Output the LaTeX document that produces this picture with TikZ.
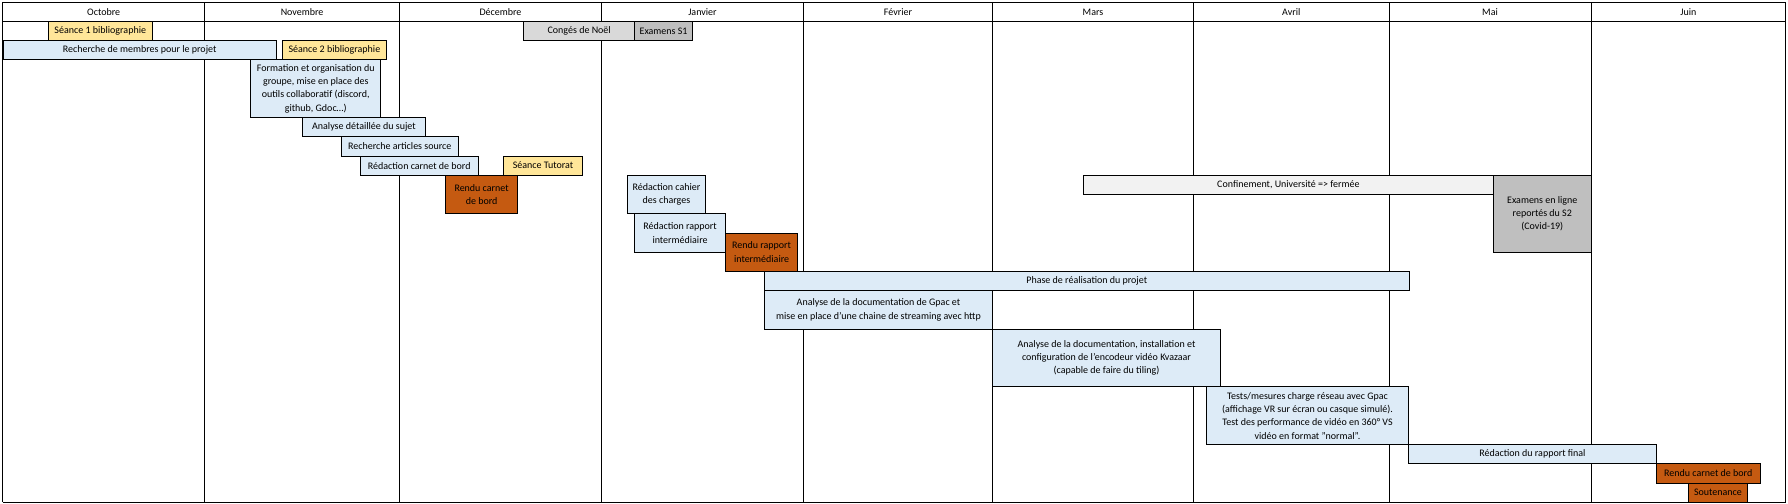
\documentclass[tikz,border=0pt]{standalone}
\usepackage{fontspec}
\setmainfont{Carlito}
\usepackage{tikz}
\usetikzlibrary{positioning}

\definecolor{taskblue}{HTML}{DDEBF7}
\definecolor{seanceyellow}{HTML}{FFE699}
\definecolor{renduorange}{HTML}{C55A11}
\definecolor{congegray}{HTML}{D9D9D9}
\definecolor{examgray}{HTML}{BFBFBF}
\definecolor{confgray}{HTML}{F2F2F2}

\begin{document}
\begin{tikzpicture}[
  x=1pt, y=-19.24pt,
  bar/.style={draw=black, line width=0.8pt, anchor=north west, outer sep=0pt, inner sep=1pt, align=center, font=\fontsize{10}{13.3}\selectfont},
  rows/.style={minimum height=#1*19.24pt},
  month/.style={bar, fill=white, minimum height=18.6pt},
  task/.style={bar, fill=taskblue},
  seance/.style={bar, fill=seanceyellow},
  rendu/.style={bar, fill=renduorange},
  conge/.style={bar, fill=congegray},
  examen/.style={bar, fill=examgray},
  confin/.style={bar, fill=confgray},
  gridline/.style={line width=0.8pt, black}
]
\useasboundingbox (0,-1.1071) rectangle (1788,25.088);

% month header
\node[month, minimum width=202pt]   (Oct)  at (2.7,-0.967)    {Octobre};
\node[month, minimum width=194.8pt] (Nov)  at (Oct.north east) {Novembre};
\node[month, minimum width=201.9pt] (Dec)  at (Nov.north east) {Décembre};
\node[month, minimum width=202.1pt] (Jan)  at (Dec.north east) {Janvier};
\node[month, minimum width=189pt]   (Fev)  at (Jan.north east) {Février};
\node[month, minimum width=201pt]   (Mar)  at (Fev.north east) {Mars};
\node[month, minimum width=195.5pt] (Avr)  at (Mar.north east) {Avril};
\node[month, minimum width=202pt]   (Mai)  at (Avr.north east) {Mai};
\node[month, minimum width=194.7pt] (Juin) at (Mai.north east) {Juin};

% month columns
\coordinate (bottom) at (0,25);
\draw[gridline] (Oct.south west) -- (Oct.south west |- bottom);
\draw[gridline] (Nov.south west) -- (Nov.south west |- bottom);
\draw[gridline] (Dec.south west) -- (Dec.south west |- bottom);
\draw[gridline] (Jan.south west) -- (Jan.south west |- bottom);
\draw[gridline] (Fev.south west) -- (Fev.south west |- bottom);
\draw[gridline] (Mar.south west) -- (Mar.south west |- bottom);
\draw[gridline] (Avr.south west) -- (Avr.south west |- bottom);
\draw[gridline] (Mai.south west) -- (Mai.south west |- bottom);
\draw[gridline] (Juin.south west) -- (Juin.south west |- bottom);
\draw[gridline] (Juin.south east) -- (Juin.south east |- bottom);
\draw[gridline] (Oct.south west |- bottom) -- (Juin.south east |- bottom);

% first semester
\node[seance, rows=1, minimum width=104.1pt] (Seance1) at (48.2,0) {Séance 1 bibliographie};
\node[conge, rows=1, minimum width=111pt] (Conges) at (523.7,0) {Congés de Noël};
\node[examen, rows=1, minimum width=57.8pt] (ExamS1) at (Conges.north east) {Examens S1};
\node[task, rows=1, minimum width=273.3pt] (Membres) at (3,1) {Recherche de membres pour le projet};
\node[seance, rows=1, minimum width=104.1pt] (Seance2) at (282.4,1) {Séance 2 bibliographie};
\node[task, rows=3, minimum width=130.1pt] (Formation) at (250.7,2)
  {Formation et organisation du\\groupe, mise en place des\\outils collaboratif (discord,\\github, Gdoc…)};
\node[task, rows=1, minimum width=123.3pt] (Sujet) at (302.3,5) {Analyse détaillée du sujet};
\node[task, rows=1, minimum width=116.7pt] (Articles) at (341.4,6) {Recherche articles source};
\node[task, rows=1, minimum width=117.5pt] (Carnet) at (360.5,7) {Rédaction carnet de bord};
\node[seance, rows=1, minimum width=78.9pt] (Tutorat) at (503.6,7) {Séance Tutorat};
\node[rendu, rows=2, minimum width=71.6pt] (RenduCarnet) at (445.8,8) {Rendu carnet\\de bord};
\node[task, rows=2, minimum width=78.1pt] (Cahier) at (627.4,8) {Rédaction cahier\\des charges};
\node[task, rows=2, minimum width=91.5pt] (RapInt) at (634.3,10) {Rédaction rapport\\intermédiaire};
\node[rendu, rows=2, minimum width=71.6pt] (RenduRapInt) at (RapInt.east) {Rendu rapport\\intermédiaire};

% second semester
\node[confin, rows=1, minimum width=410pt] (Confinement) at (1083.4,8) {Confinement, Université => fermée};
\node[examen, rows=4, minimum width=97.8pt] (ExamS2) at (Confinement.north east)
  {Examens en ligne\\reportés du S2\\(Covid-19)};
\node[task, rows=1, minimum width=644.5pt] (Phase) at (764.5,13) {Phase de réalisation du projet};
\node[task, rows=2, minimum width=228pt] (Gpac) at (Phase.south west)
  {Analyse de la documentation de Gpac et\\mise en place d'une chaine de streaming avec http};
\node[task, rows=3, minimum width=228pt] (Kvazaar) at (Gpac.south east)
  {Analyse de la documentation, installation et\\configuration de l'encodeur vidéo Kvazaar\\(capable de faire du tiling)};
\node[task, rows=3, minimum width=202.6pt] (Tests) at (1206.2,19)
  {Tests/mesures charge réseau avec Gpac\\(affichage VR sur écran ou casque simulé).\\Test des performance de vidéo en 360° VS\\vidéo en format "normal".};
\node[task, rows=1, minimum width=247.2pt] (RapFinal) at (Tests.south east) {Rédaction du rapport final};
\node[rendu, rows=1, minimum width=104.5pt] (RenduFinal) at (RapFinal.south east) {Rendu carnet de bord};
\node[rendu, rows=1, minimum width=58.8pt] (Soutenance) at (1688.5,24) {Soutenance};

\end{tikzpicture}
\end{document}
